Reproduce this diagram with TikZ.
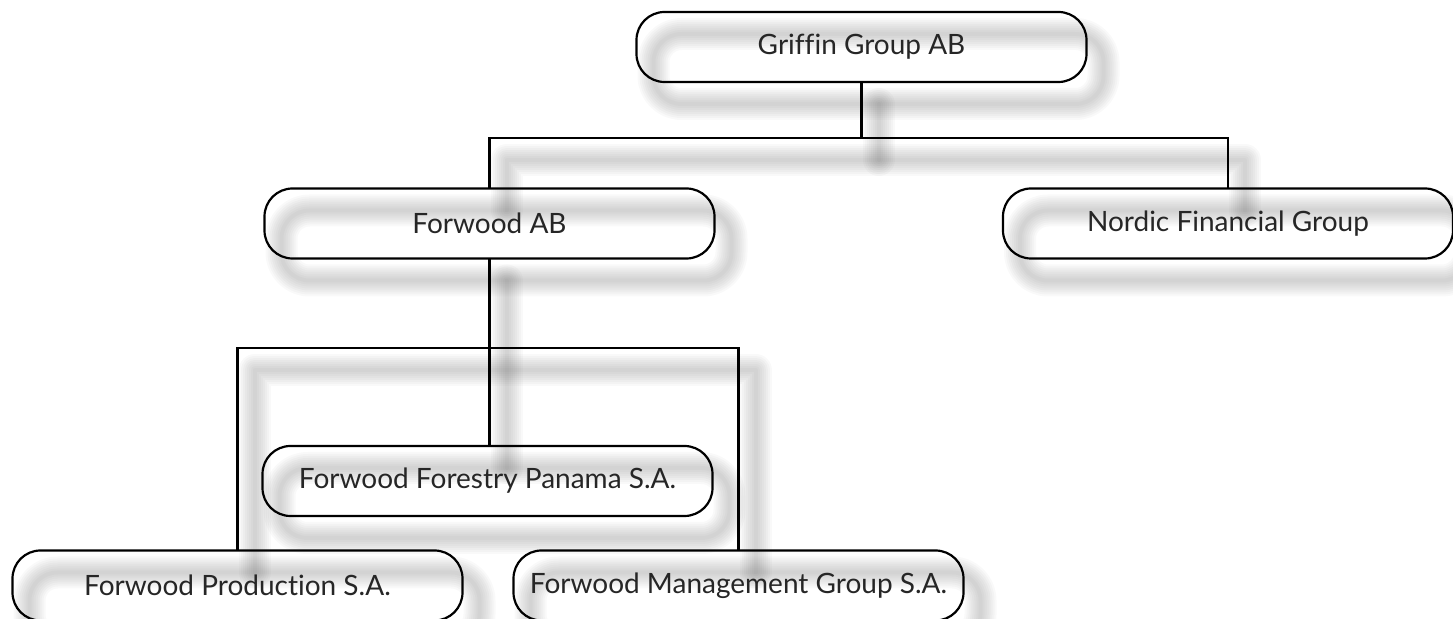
\documentclass[tikz,border=0pt]{standalone}
\usepackage{fontspec}
\setmainfont{Lato}[Ligatures = NoCommon]
\usetikzlibrary{backgrounds}
\begin{document}
\begin{tikzpicture}[x = .5pt, y = -.5pt]
		\tikzstyle{every node} = [font = \fontsize{14}{17}\selectfont, text = black!85]
		\tikzstyle{unit} = [draw, line width = 1.1pt, rounded corners = 14pt, minimum width = 225pt, minimum height = 35pt, outer sep = 0pt, inner sep = 0pt]
		\tikzstyle{link} = [line width = 1.1pt]
		\tikzstyle{glow} = [draw = black, opacity = .025, line join = round, line cap = round, transform canvas = {shift = {(17,22)}}]
		\useasboundingbox (0,0) rectangle (1453,619);

		\node [unit] (griffin) at (861.5,47) {Griffin Group AB};
		\node [unit] (forwood) at (489.5,223.5) {Forwood AB};
		\node [unit] (nordic) at (1228,223.5) {Nordic Financial Group};
		\node [unit] (panama) at (487.5,481) {Forwood Forestry Panama S.A.};
		\node [unit] (production) at (237.5,585.5) {Forwood Production S.A.};
		\node [unit] (management) at (738.5,585.5) {Forwood Management Group S.A.};
		\coordinate (bus1) at (859,138);
		\coordinate (bus2) at (489,348);

		\draw [link] (griffin.south) -- (griffin.south |- bus1); %griffin to bus1
		\draw [link] (forwood.north) |- (bus1) -| (nordic.north); %forwood to nordic
		\draw [link] (forwood.south) -- (forwood.south |- panama.north); %forwood to panama
		\draw [link] (production.north) |- (bus2) -| (management.north); %production to management

		% soft shadows
		\begin{scope}[on background layer]
		\foreach \w in {16,14,12,10,8,6,4,2}
		{
			\foreach \n in {griffin,forwood,nordic,panama,production,management}
				\draw [glow, line width = \w pt, rounded corners = 14pt] (\n.north west) rectangle (\n.south east);
			\draw [glow, line width = \w pt] (griffin.south) -- (griffin.south |- bus1);
			\draw [glow, line width = \w pt] (forwood.north) |- (bus1) -| (nordic.north);
			\draw [glow, line width = \w pt] (forwood.south) -- (forwood.south |- panama.north);
			\draw [glow, line width = \w pt] (production.north) |- (bus2) -| (management.north);
		}
		\end{scope}
	\end{tikzpicture}
\end{document}
